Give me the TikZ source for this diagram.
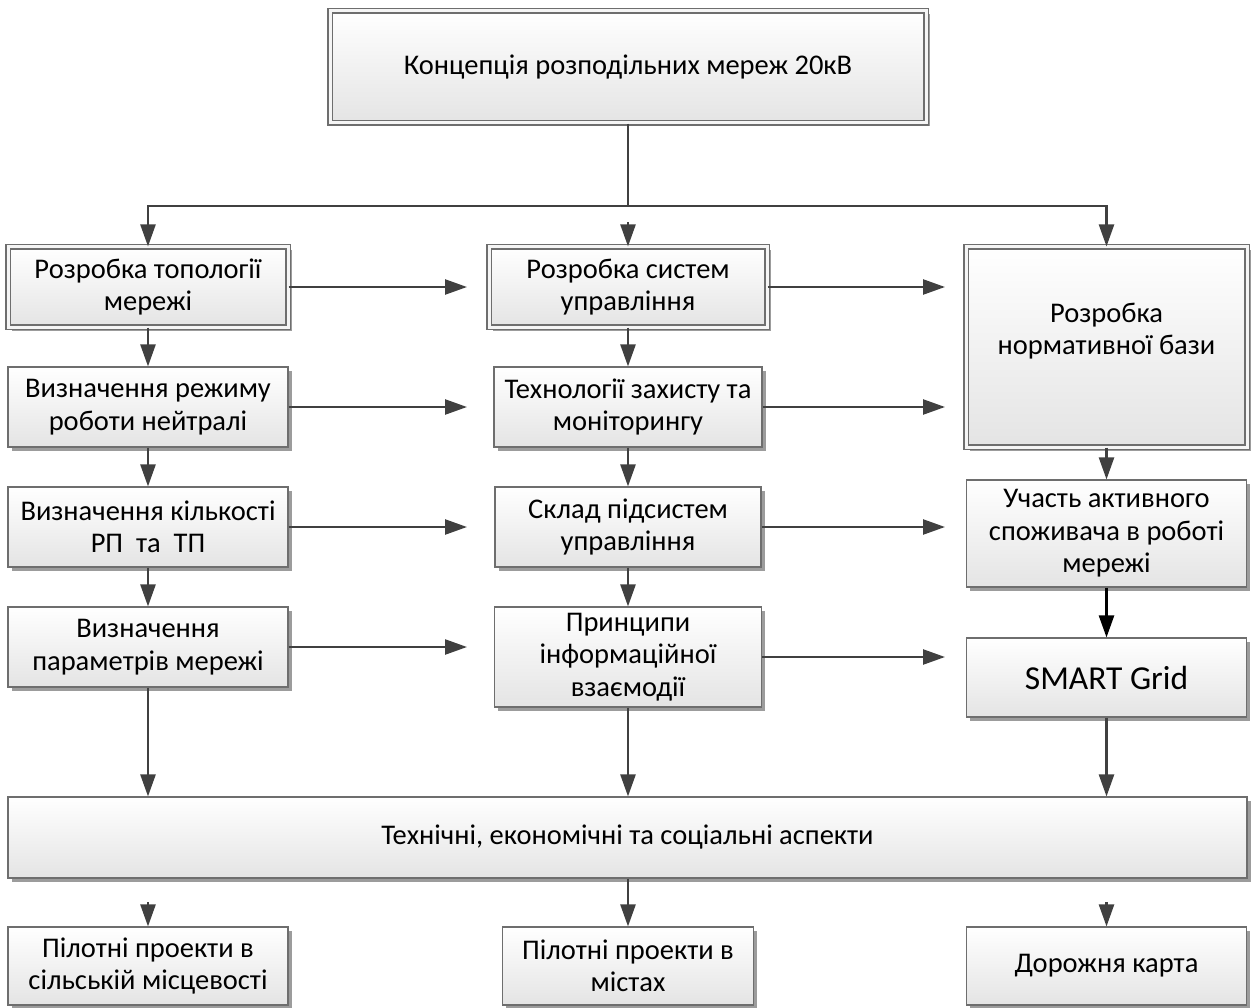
\documentclass[tikz,border=0pt]{standalone}
\usepackage{fontspec}
\setmainfont{Carlito}
\usetikzlibrary{arrows.meta,shadows,calc}

\definecolor{linegray}{HTML}{404040}
\definecolor{boxline}{HTML}{6E6E6E}
\definecolor{boxbot}{HTML}{E4E4E4}
\definecolor{shadowgray}{HTML}{9C9C9C}

\tikzset{
  box/.style={draw=boxline, line width=1.1pt, top color=white, bottom color=boxbot,
    general shadow={fill=shadowgray, shadow xshift=3.5pt, shadow yshift=-3.5pt},
    align=center, inner sep=0pt, font=\fontsize{28.5}{32.5}\selectfont},
  dbox/.style={box, double=white!96!black, double distance=3pt},
  lbl/.style={align=center, inner sep=0pt, font=\fontsize{28.5}{32.5}\selectfont},
  wire/.style={draw=linegray, line width=2.4pt},
  arr/.style={wire, -{Triangle[length=22pt,width=15pt]}},
}

\begin{document}
\begin{tikzpicture}[x=1pt,y=-1pt]
\useasboundingbox (0,0) rectangle (1257,1008);

% top level
\node[dbox, minimum width=596pt, minimum height=112pt] (top) at (628,67) {Концепція розподільних мереж 20кВ};

% left column
\node[dbox, minimum width=280pt, minimum height=80pt] (l1) at (148,287) {Розробка топології\\мережі};
\node[box, minimum width=280pt, minimum height=80pt] (l2) at (148,407) {Визначення режиму\\роботи нейтралі};
\node[box, minimum width=280pt, minimum height=80pt] (l3) at (148,527) {Визначення кількості\\РП~ та~ ТП};
\node[box, minimum width=280pt, minimum height=80pt] (l4) at (148,647) {Визначення\\параметрів мережі};

% middle column
\node[dbox, minimum width=278pt, minimum height=80pt] (m1) at (628,287) {Розробка систем\\управління};
\node[box, minimum width=268pt, minimum height=80pt] (m2) at (628,407) {Технології захисту та\\моніторингу};
\node[box, minimum width=266pt, minimum height=80pt] (m3) at (628,527) {Склад підсистем\\управління};
\node[box, minimum width=267pt, minimum height=100pt] (m4) at (628,657) {Принципи\\інформаційної\\взаємодії};

% right column
\node[dbox, minimum width=281pt, minimum height=200pt] (r1) at (1106.5,347) {};
\node[lbl] (r1t) at (1106.5,331) {Розробка\\нормативної бази};
\node[box, minimum width=280pt, minimum height=107pt] (r3) at (1106.5,533.5) {Участь активного\\споживача в роботі\\мережі};
\node[box, minimum width=280pt, minimum height=79pt, font=\fontsize{33.5}{38}\selectfont] (sg) at (1106.5,677.5) {SMART Grid};

% summary and outcomes
\node[box, minimum width=1239pt, minimum height=81pt] (wide) at (627.5,837.5) {Технічні, економічні та соціальні аспекти};
\node[box, minimum width=280pt, minimum height=78pt] (b1) at (148,966) {Пілотні проекти в\\сільській місцевості};
\node[box, minimum width=251pt, minimum height=78pt] (b2) at (628,966) {Пілотні проекти в\\містах};
\node[box, minimum width=280pt, minimum height=78pt] (b3) at (1106.5,966) {Дорожня карта};

% helper coordinates
\coordinate (bar) at (0,206);
\coordinate (tipM) at (467,0);
\coordinate (tipR) at (945,0);

% distribution from the top box
\draw[wire] (top.south) -- (top.south |- bar);
\draw[arr] (top.south |- bar) -| (l1.north);
\draw[arr] (top.south |- bar) -| (r1.north);
\draw[arr] ($(m1.north)+(0,-24)$) -- (m1.north);

% horizontal links
\draw[arr] (l1.east) -- (l1.east -| tipM);
\draw[arr] (l2.east) -- (l2.east -| tipM);
\draw[arr] (l3.east) -- (l3.east -| tipM);
\draw[arr] (l4.east) -- (l4.east -| tipM);
\draw[arr] (m1.east) -- (m1.east -| tipR);
\draw[arr] (m2.east) -- (m2.east -| tipR);
\draw[arr] (m3.east) -- (m3.east -| tipR);
\draw[arr] (m4.east) -- (m4.east -| tipR);

% vertical links
\draw[arr] (l1.south) -- (l2.north);
\draw[arr] (l2.south) -- (l3.north);
\draw[arr] (l3.south) -- (l4.north);
\draw[arr] (m1.south) -- (m2.north);
\draw[arr] (m2.south) -- (m3.north);
\draw[arr] (m3.south) -- (m4.north);
\draw[arr] (r1.south) -- (r3.north);
\draw[arr, draw=black] (r3.south) -- (sg.north);

% into the summary box
\draw[arr] (l4.south) -- (l4.south |- wide.north);
\draw[arr] (m4.south) -- (m4.south |- wide.north);
\draw[arr] (sg.south) -- (sg.south |- wide.north);

% outcomes
\draw[arr] ($(b1.north)+(0,-24)$) -- (b1.north);
\draw[arr] (wide.south -| b2.north) -- (b2.north);
\draw[arr] ($(b3.north)+(0,-24)$) -- (b3.north);
\end{tikzpicture}
\end{document}
